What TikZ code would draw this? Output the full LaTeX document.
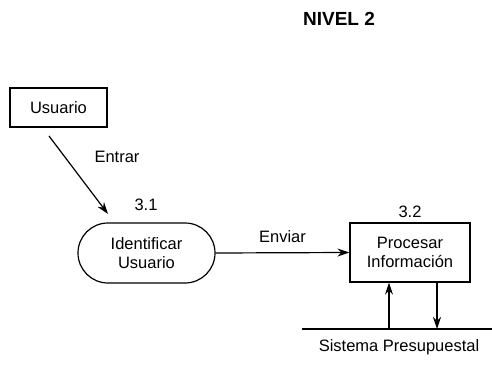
\documentclass[tikz,border=0pt]{standalone}
\usepackage{fontspec}
\setmainfont{Liberation Sans}
\usetikzlibrary{arrows.meta}
\begin{document}
\begin{tikzpicture}[x=1pt,y=-1pt,
  lbl/.style={font=\fontsize{16.5}{19.5}\selectfont, inner sep=0pt},
  entity/.style={draw, line width=1.2pt, minimum width=97pt, minimum height=39pt, font=\fontsize{16.5}{19.5}\selectfont},
  proc/.style={draw, line width=1.2pt, rounded corners=30pt, minimum width=137pt, minimum height=60pt, align=center, font=\fontsize{16.5}{19.5}\selectfont},
  procbox/.style={draw, line width=1.2pt, minimum width=120pt, minimum height=59pt, align=center, font=\fontsize{16.5}{19.5}\selectfont},
  flow/.style={line width=1.2pt, -{Stealth[length=12pt,width=8pt]}}]
\useasboundingbox (0,0) rectangle (492,366);
\node[font=\bfseries\fontsize{19}{22}\selectfont, inner sep=0pt] (title) at (339,19) {NIVEL 2};
\node[entity] (usuario) at (58.5,107.5) {Usuario};
\node[proc] (ident) at (146.5,253) {Identificar\\Usuario};
\node[procbox] (procesar) at (410,252.5) {Procesar\\Información};
\coordinate (s1) at (49,136);
\coordinate (e1) at (108,214);
\draw[flow] (s1) -- (e1);
\node[lbl] (entrar) at (117,157) {Entrar};
\node[lbl] (n31) at (146,205) {3.1};
\node[lbl] (n32) at (410,212) {3.2};
\draw[flow] (ident.east) -- (procesar.west) node[pos=0.5, above=9pt, lbl] (enviar) {Enviar};
\coordinate (stL) at (302,329);
\coordinate (stR) at (492,329);
\draw[line width=1.2pt] (stL) -- (stR);
\coordinate (up) at (389,329);
\coordinate (dn) at (437,329);
\draw[flow] (up) -- (up |- procesar.south);
\draw[flow] (dn |- procesar.south) -- (dn);
\node[lbl] (sistema) at (399,347) {Sistema Presupuestal};
\end{tikzpicture}
\end{document}
